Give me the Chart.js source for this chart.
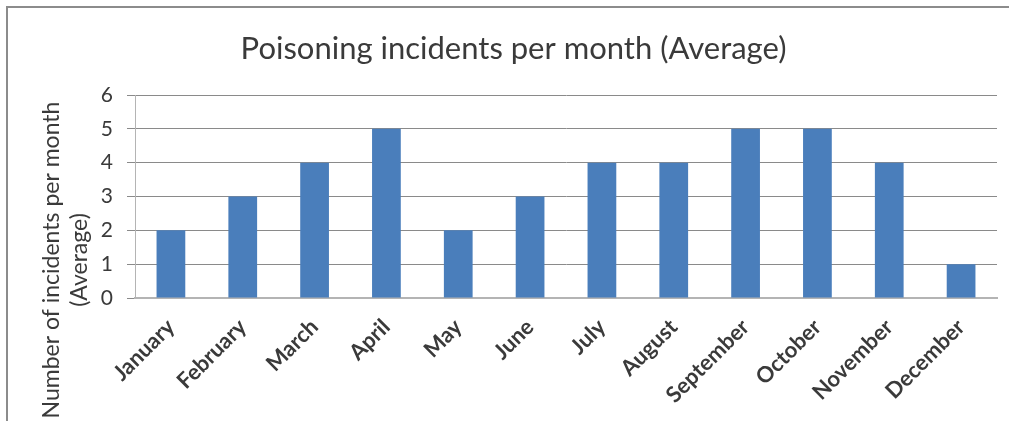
<!DOCTYPE html>
<html>
<head>
<meta charset="utf-8">
<script src="https://cdn.jsdelivr.net/npm/chart.js@4/dist/chart.umd.min.js"></script>
<style>
  html, body { margin: 0; padding: 0; background: #fff; }
  #frame { position: absolute; left: 6px; top: 6px; width: 1100px; height: 500px;
           border-left: 2px solid #8c8c8c; border-top: 2px solid #8c8c8c; }
  #poisonChart { position: absolute; left: 0; top: 0; }
</style>
</head>
<body>
<div id="frame"></div>
<canvas id="poisonChart" width="1009" height="421"></canvas>
<script>
const months = ['January', 'February', 'March', 'April', 'May', 'June',
  'July', 'August', 'September', 'October', 'November', 'December'];
const incidents = [2, 3, 4, 5, 2, 3, 4, 4, 5, 5, 4, 1];
const yTicks = [0, 1, 2, 3, 4, 5, 6];

const chartTitle = 'Poisoning incidents per month (Average)';
const yTitleLines = ['Number of incidents per month', '(Average)'];

let textGrey = '#3a3a3a';
let gridGrey = '#8a8a8a';
let axisGrey = '#b4b4b4';
let barBlue = '#4a7ebb';

// Excel puts the axis title lower than the plot centre, so draw it by hand
const yTitlePlugin = {
  id: 'yTitle',
  afterDraw(chart) {
    const c = chart.ctx;
    c.save();
    c.font = '23px Lato';
    c.fillStyle = textGrey;
    c.textAlign = 'center';
    c.textBaseline = 'middle';
    c.translate(0, 260);
    c.rotate(-Math.PI / 2);
    c.fillText(yTitleLines[0], 0, 52);
    c.fillText(yTitleLines[1], 0, 80);
    c.restore();
  }
};

const ctx = document.getElementById('poisonChart');

new Chart(ctx, {
  type: 'bar',
  data: {
    labels: months,
    datasets: [{
      label: 'Average',
      data: incidents,
      backgroundColor: barBlue,
      borderWidth: 0,
      categoryPercentage: 1,
      barPercentage: 0.4
    }]
  },
  options: {
    responsive: false,
    animation: false,
    // left padding only nudges the title to the right, the y axis width makes up for it
    layout: { padding: { left: 30, right: 12, top: 0, bottom: 0 } },
    scales: {
      x: {
        grid: { display: false },
        border: { color: axisGrey, width: 2 },
        ticks: {
          color: textGrey,
          font: { family: 'Lato', size: 22, weight: 'bold' },
          minRotation: 45,
          maxRotation: 45,
          autoSkip: false,
          padding: 8
        },
        afterFit(scale) { scale.height = 123; }
      },
      y: {
        min: 0,
        max: 6,
        afterBuildTicks(scale) { scale.ticks = yTicks.map(v => ({ value: v })); },
        grid: { color: gridGrey, lineWidth: 1, tickLength: 8 },
        border: { color: axisGrey, width: 1 },
        ticks: {
          color: textGrey,
          font: { family: 'Lato', size: 21 },
          padding: 14
        },
        afterFit(scale) { scale.width = 105; }
      }
    },
    plugins: {
      legend: { display: false },
      tooltip: { enabled: false },
      title: {
        display: true,
        text: chartTitle,
        color: textGrey,
        font: { family: 'Lato', size: 31, weight: 'normal', lineHeight: 1.2 },
        padding: { top: 30, bottom: 27.8 }
      }
    }
  },
  plugins: [yTitlePlugin]
});
</script>
</body>
</html>
